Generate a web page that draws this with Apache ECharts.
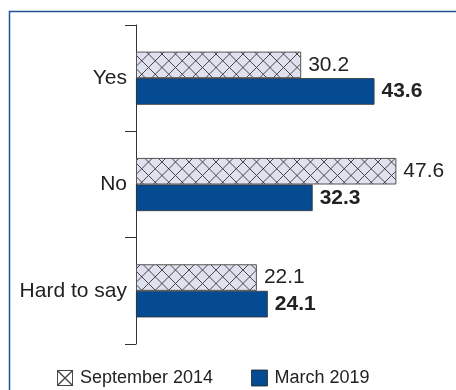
<!DOCTYPE html>
<html><head><meta charset="utf-8">
<script src="https://cdn.jsdelivr.net/npm/echarts@6/dist/echarts.min.js"></script>
<style>html,body{margin:0;padding:0;background:#fff}#c{width:456px;height:390px}</style>
</head><body><div id="c"></div>
<script>
var categories = ['Yes', 'No', 'Hard to say'];
var seriesNames = ['September 2014', 'March 2019'];
var sept2014 = [30.2, 47.6, 22.1];
var march2019 = [43.6, 32.3, 24.1];

function makeHatch() {
  var s = 27, h = s / 2;
  var c = document.createElement('canvas');
  c.width = s; c.height = s;
  var g = c.getContext('2d');
  g.fillStyle = '#dfe1ef';
  g.fillRect(0, 0, s, s);
  g.strokeStyle = '#333';
  g.lineWidth = 0.9;
  g.beginPath();
  for (var k = -2; k <= 4; k++) {
    var o = k * h;
    g.moveTo(o, 0); g.lineTo(o + s, s);
    g.moveTo(o, s); g.lineTo(o + s, 0);
  }
  g.stroke();
  return c;
}

var BLUE = '#044b92';
var sans = "'Liberation Sans',Arial,sans-serif";
var xIcon = 'path://M0,0 H100 V100 H0 Z M6,6 V94 H94 V6 Z M6,6 L12,6 L94,88 L94,94 L88,94 L6,12 Z M94,6 L94,12 L12,94 L6,94 L6,88 L88,6 Z';

var chart = echarts.init(document.getElementById('c'), null, {renderer: 'canvas'});
chart.setOption({
  animation: false,
  graphic: [{
    type: 'rect', left: 7, top: 9, silent: true,
    shape: {width: 470, height: 400},
    style: {fill: 'none', stroke: '#1d5597', lineWidth: 1.5}
  }],
  grid: {left: 136, top: 25, bottom: 46, width: 273.5},
  xAxis: {type: 'value', min: 0, max: 50, show: false},
  yAxis: {
    type: 'category', data: categories, inverse: true,
    axisLine: {show: true, lineStyle: {color: '#333', width: 1}},
    axisTick: {show: true, length: 11, lineStyle: {color: '#333', width: 1}},
    axisLabel: {fontFamily: sans, fontSize: 21, color: '#222', margin: 9}
  },
  legend: {
    left: 52, top: 364, itemWidth: 16, itemHeight: 16, itemGap: 38,
    textStyle: {fontFamily: sans, fontSize: 18, color: '#222', padding: [0, 0, 0, 2]},
    data: [
      {name: seriesNames[0], icon: xIcon, itemStyle: {color: '#444', borderWidth: 0}},
      {name: seriesNames[1], icon: 'rect', itemStyle: {color: BLUE, borderColor: '#222', borderWidth: 0.8}}
    ]
  },
  series: [{
    type: 'bar', name: seriesNames[0], data: sept2014,
    barGap: '0%', barCategoryGap: '50%',
    itemStyle: {color: {image: makeHatch(), repeat: 'repeat'}, borderColor: '#555', borderWidth: 1},
    label: {show: true, position: 'right', distance: 7, fontFamily: sans, fontSize: 21, color: '#222'}
  }, {
    type: 'bar', name: seriesNames[1], data: march2019,
    itemStyle: {color: BLUE, borderColor: '#333', borderWidth: 0.8},
    label: {show: true, position: 'right', distance: 7, fontFamily: sans, fontSize: 21, fontWeight: 'bold', color: '#222'}
  }]
});
</script></body></html>
